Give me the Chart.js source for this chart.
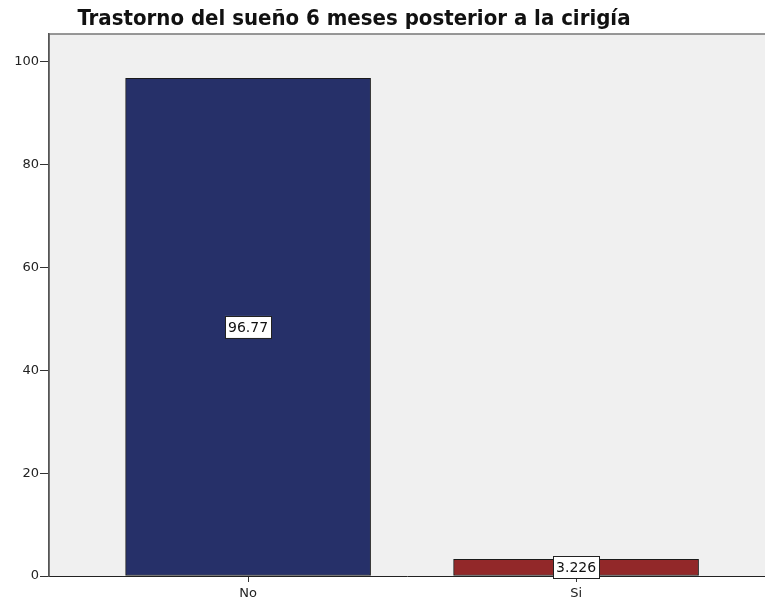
<!DOCTYPE html>
<html>
<head>
<meta charset="utf-8">
<script src="https://cdn.jsdelivr.net/npm/chart.js@4"></script>
<style>
  html, body { margin: 0; padding: 0; background: #fff; }
  #wrap { width: 765px; height: 605px; position: relative; }
</style>
</head>
<body>
<div id="wrap"><canvas id="chart"></canvas></div>
<script>
// --- data ---
const titleText = "Trastorno del sueño 6 meses posterior a la cirigía";
const categories = ["No", "Si"];
const percents = [96.77, 3.226];
const valueLabels = ["96.77", "3.226"];
const barColors = ["#263069", "#922829"];
const yTicks = [0, 20, 40, 60, 80, 100];

// plot background + frame, title, value boxes
const spssLook = {
  id: "spssLook",
  beforeDraw(chart) {
    const { ctx, chartArea: a } = chart;
    ctx.save();
    ctx.fillStyle = "#fff";
    ctx.fillRect(0, 0, chart.width, chart.height);
    ctx.fillStyle = "#f0f0f0";
    ctx.fillRect(a.left, a.top, a.right - a.left, a.bottom - a.top);
    ctx.strokeStyle = "#777";
    ctx.lineWidth = 1.5;
    ctx.beginPath();
    ctx.moveTo(a.left, a.bottom);
    ctx.lineTo(a.left, a.top);
    ctx.lineTo(a.right, a.top);
    ctx.stroke();
    ctx.restore();
  },
  afterDraw(chart) {
    const { ctx } = chart;
    ctx.save();
    ctx.font = "bold 22px 'DejaVu Sans Condensed', 'DejaVu Sans'";
    ctx.fillStyle = "#111";
    ctx.textAlign = "center";
    ctx.textBaseline = "middle";
    ctx.fillText(titleText, 354, 19);

    const meta = chart.getDatasetMeta(0);
    ctx.font = "14px 'DejaVu Sans'";
    meta.data.forEach((bar, i) => {
      const txt = valueLabels[i];
      const w = ctx.measureText(txt).width + 6;
      const h = 22;
      const cx = bar.x;
      const cy = (bar.y + bar.base) / 2;
      ctx.fillStyle = "#fff";
      ctx.fillRect(cx - w / 2, cy - h / 2, w, h);
      ctx.strokeStyle = "#222";
      ctx.lineWidth = 1;
      ctx.strokeRect(Math.round(cx - w / 2) + 0.5, Math.round(cy - h / 2) + 0.5, Math.round(w), h);
      ctx.fillStyle = "#111";
      ctx.fillText(txt, cx, cy + 1);
    });
    ctx.restore();
  }
};

new Chart(document.getElementById("chart"), {
  type: "bar",
  data: {
    datasets: [{
      data: percents.map((v, i) => ({ x: i, y: v })),
      backgroundColor: barColors,
      borderColor: "#1a1a1a",
      borderWidth: 1,
      borderSkipped: false,
      barThickness: 245
    }]
  },
  options: {
    responsive: true,
    maintainAspectRatio: false,
    animation: false,
    layout: { padding: { top: 34, left: 0, right: 0, bottom: 0 } },
    plugins: { legend: { display: false }, tooltip: { enabled: false } },
    scales: {
      x: {
        type: "linear",
        min: -0.607,
        max: 1.576,
        offset: false,
        afterBuildTicks: s => { s.ticks = categories.map((c, i) => ({ value: i })); },
        afterFit: s => { s.height = 29; },
        ticks: {
          callback: v => categories[v],
          color: "#222",
          font: { family: "DejaVu Sans", size: 13 },
          padding: 4,
          maxRotation: 0
        },
        grid: { offset: false, drawOnChartArea: false, drawTicks: true, tickLength: 6, color: "#333" },
        border: { color: "#222", width: 1 }
      },
      y: {
        min: 0,
        max: 105.4,
        afterBuildTicks: s => { s.ticks = yTicks.map(v => ({ value: v })); },
        afterFit: s => { s.width = 49; },
        ticks: {
          color: "#222",
          font: { family: "DejaVu Sans", size: 13 },
          padding: 1
        },
        grid: { drawOnChartArea: false, drawTicks: true, tickLength: 9, color: "#333" },
        border: { color: "#555", width: 1.5 }
      }
    }
  },
  plugins: [spssLook]
});
</script>
</body>
</html>
